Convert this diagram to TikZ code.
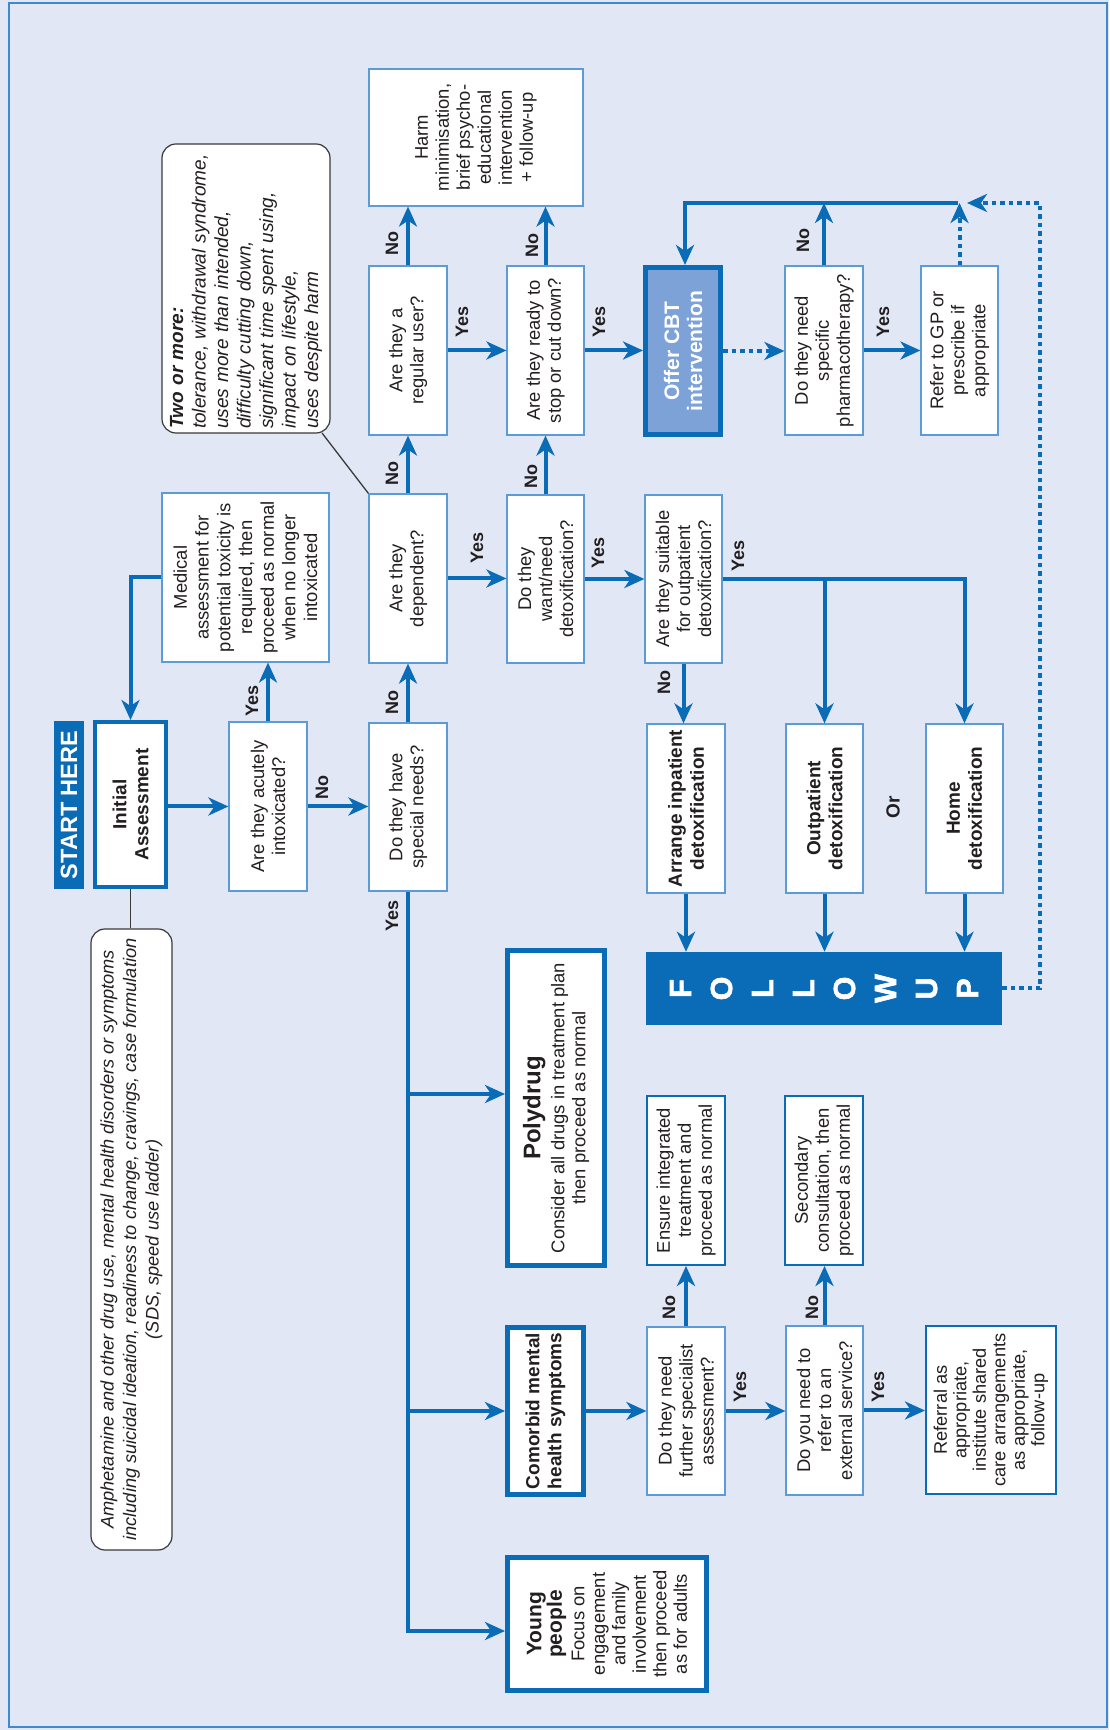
\documentclass[tikz,border=0pt]{standalone}
\usepackage{fontspec}
\setmainfont{Liberation Sans}
\newfontfamily\hvyfont{Liberation Sans}[BoldFeatures={FakeBold=2}]
\usetikzlibrary{arrows.meta}
\definecolor{bgc}{HTML}{E1E7F5}
\definecolor{mainb}{HTML}{0A6BB6}
\definecolor{thinb}{HTML}{5B9BD8}
\definecolor{cbtf}{HTML}{7CA2D8}
\definecolor{txt}{HTML}{231F20}
\definecolor{bordc}{HTML}{3D8AD0}
\definecolor{rbord}{HTML}{3A3A3A}
\newcommand\myrf{\fontsize{18.4}{21}\selectfont}
\newcommand\myrfm{\fontsize{18.4}{21.7}\selectfont}
\newcommand\mylf{\bfseries\fontsize{18}{18}\selectfont}
\newcommand\mybf{\bfseries\fontsize{19}{22}\selectfont}
\newcommand\ybf{\bfseries\fontsize{21}{22}\selectfont}
\begin{document}
\begin{tikzpicture}[x=1pt,y=1pt,
  nb/.style={align=center, inner sep=2pt, text=txt, font=\myrf},
  qbox/.style={nb, draw=thinb, line width=1.2pt, fill=white},
  obox/.style={nb, draw=mainb, line width=2pt, fill=white},
  tbox/.style={nb, draw=mainb, line width=5pt, fill=white},
  rbox/.style={nb, draw=rbord, line width=1.2pt, fill=white, rounded corners=14pt},
  sz/.style 2 args={minimum width=#1pt, minimum height=#2pt},
  arr/.style={draw=mainb, line width=4pt, -{Stealth[length=20pt,width=18pt,inset=6pt]}},
  dotarr/.style={arr, dash pattern=on 4.5pt off 4pt},
  blk/.style={draw=rbord, line width=1.3pt},
  lbl/.style={font=\mylf, text=txt, inner sep=0pt}]
\useasboundingbox (0,0) rectangle (1109,1730);
\fill[bgc] (0,0) rectangle (1109,1730);
\draw[bordc, line width=1.5pt] (9,3) rectangle (1107,1727);
\begin{scope}[rotate=90, transform shape]
% ---------- nodes ----------
\node[rbox, sz={289}{168}, inner sep=4pt, text width=281pt, align=left,
      font=\itshape\fontsize{19}{22.5}\selectfont] (tm) at (1441.5,-246)
  {\textbf{Two or more:}\\tolerance, withdrawal syndrome,\\uses more than intended,\\difficulty cutting down,\\significant  time spent using,\\impact on lifestyle,\\uses despite harm};
\node[qbox, sz={137}{214}] (harm) at (1592.5,-476)
  {Harm\\minimisation,\\brief psycho-\\educational\\intervention\\+ follow-up};
\node[qbox, sz={169}{78}] (reg) at (1379.5,-408) {Are they a\\regular user?};
\node[qbox, sz={169}{77}] (ready) at (1379.5,-545.5) {Are they ready to\\stop or cut down?};
\node[tbox, fill=cbtf, sz={167}{75}, text=white, font=\bfseries\fontsize{21}{23}\selectfont] (cbt) at (1379,-683) {Offer CBT\\intervention};
\node[qbox, sz={169}{78}] (pharm) at (1379.5,-824) {Do they need\\specific\\pharmacotherapy?};
\node[qbox, sz={169}{77}] (refer) at (1379.5,-959.5) {Refer to GP or\\prescribe if\\appropriate};
\node[qbox, sz={169}{78}] (dep) at (1151.5,-408) {Are they\\dependent?};
\node[qbox, sz={168}{77}] (want) at (1151,-545.5) {Do they\\want/need\\detoxification?};
\node[qbox, sz={168}{77}] (suit) at (1151,-683.5) {Are they suitable\\for outpatient\\detoxification?};
\node[qbox, sz={169}{167}, font=\myrfm] (med) at (1152.5,-245.5)
  {Medical\\assessment for\\potential toxicity is\\required, then\\proceed as normal\\when no longer\\intoxicated};
\node[fill=mainb, text=white, font=\bfseries\fontsize{23.5}{24}\selectfont, sz={168}{30}, inner sep=0pt] (start) at (925,-69) {START HERE};
\node[tbox, line width=4pt, sz={165}{71}, font=\mybf] (init) at (925.5,-130.5) {Initial\\Assessment};
\node[qbox, sz={169}{78}] (acute) at (923.5,-268) {Are they acutely\\intoxicated?};
\node[qbox, sz={168}{78}] (special) at (923,-408) {Do they have\\special needs?};
\node[qbox, sz={169}{78}, font=\mybf] (inpat) at (921.5,-686) {Arrange inpatient\\detoxification};
\node[qbox, sz={169}{77}, font=\mybf] (outpat) at (921.5,-824.5) {Outpatient\\detoxification};
\node[qbox, sz={169}{77}, font=\mybf] (home) at (921.5,-964.5) {Home\\detoxification};
\node[lbl, font=\mybf] (or) at (923,-893) {Or};
\node[rbox, sz={621}{81}, font=\itshape\fontsize{18.2}{22.5}\selectfont] (amph) at (490.5,-131.5)
  {Amphetamine and other drug use, mental health disorders or symptoms\\including suicidal ideation, readiness to change, cravings, case formulation\\(SDS, speed use ladder)};
\node[fill=mainb, sz={73}{356}, inner sep=0pt, text=white, align=center,
      font=\hvyfont\bfseries\fontsize{30.5}{41}\selectfont] (follow) at (741.5,-824) {F\\O\\L\\L\\O\\W\\U\\P};
\node[tbox, sz={315}{97}] (poly) at (622,-556)
  {{\fontsize{24}{26}\selectfont\bfseries Polydrug}\\[3pt]Consider all drugs in treatment plan\\then proceed as normal};
\node[obox, sz={169}{78}] (ensure) at (549.5,-686) {Ensure integrated\\treatment and\\proceed as normal};
\node[obox, sz={169}{78}] (second) at (549.5,-824) {Secondary\\consultation, then\\proceed as normal};
\node[tbox, sz={167}{76}, font=\mybf] (como) at (319,-545.5) {Comorbid mental\\health symptoms};
\node[qbox, sz={168}{78}] (further) at (319,-686) {Do they need\\further specialist\\assessment?};
\node[qbox, sz={169}{77}] (external) at (319.5,-824.5) {Do you need to\\refer to an\\external service?};
\node[obox, sz={168}{130}, font=\fontsize{18.2}{19.5}\selectfont] (referral) at (320,-991)
  {Referral as\\appropriate,\\institute shared\\care arrangements\\as appropriate,\\follow-up};
\node[tbox, sz={133}{199}, font=\fontsize{18.4}{20.5}\selectfont] (young) at (106,-607)
  {{\ybf Young}\\{\ybf people}\\[2pt]Focus on\\engagement\\and family\\involvement\\then proceed\\as for adults};
% ---------- labels ----------
\node[lbl] (l1) at (1029,-252) {Yes};
\node[lbl] (l2) at (942,-322) {No};
\node[lbl] (l3) at (1027,-392) {No};
\node[lbl] (l4) at (814,-392) {Yes};
\node[lbl] (l5) at (1256,-392) {No};
\node[lbl] (l6) at (1182,-477) {Yes};
\node[lbl] (l7) at (1253,-531) {No};
\node[lbl] (l8) at (1177,-598) {Yes};
\node[lbl] (l9) at (1486,-392) {No};
\node[lbl] (l10) at (1408,-462) {Yes};
\node[lbl] (l11) at (1484,-532) {No};
\node[lbl] (l12) at (1408,-599) {Yes};
\node[lbl] (l13) at (1489,-803) {No};
\node[lbl] (l14) at (1408,-883) {Yes};
\node[lbl] (l15) at (1047,-664) {No};
\node[lbl] (l16) at (1174,-738) {Yes};
\node[lbl] (l17) at (422,-669) {No};
\node[lbl] (l18) at (343,-740) {Yes};
\node[lbl] (l19) at (422,-812) {No};
\node[lbl] (l20) at (343,-878) {Yes};
% ---------- helper coordinates ----------
\coordinate (jl) at (1527,-685);
\coordinate (jr) at (1527,-958);
\coordinate (jt) at (1527,-967);
\coordinate (dc) at (1527,-1040);
\coordinate (pj) at (636,-505);
\coordinate (yj) at (99,-505);
\coordinate (tmc) at (1297,-322);
% ---------- connectors ----------
\draw[arr] (med.north) |- (init.east);
\draw[blk] (init.west) -- (init.west -| amph.east);
\draw[arr] (init.south -| acute.north) -- (acute.north);
\draw[arr] (acute.east) -- (acute.east -| med.west);
\draw[arr] (acute.south) -- (acute.south |- special.north);
\draw[arr] (special.east) -- (special.east -| dep.west);
\draw[arr] (special.west) -| (yj);
\draw[arr] (pj |- special.west) -- (pj);
\draw[arr] (como.north |- special.west) -- (como.north);
\draw[arr] (dep.east) -- (dep.east -| reg.west);
\draw[arr] (dep.south) -- (dep.south |- want.north);
\draw[arr] (want.east) -- (want.east -| ready.west);
\draw[arr] (want.south) -- (want.south |- suit.north);
\draw[arr] (reg.east) -- (reg.east -| harm.west);
\draw[arr] (reg.south) -- (reg.south |- ready.north);
\draw[arr] (ready.east) -- (ready.east -| harm.west);
\draw[arr] (ready.south) -- (ready.south |- cbt.north);
\draw[dotarr] (cbt.south) -- (cbt.south |- pharm.north);
\draw[arr] (jr) -- (jl) -- (jl -| cbt.east);
\draw[arr] (pharm.east) -- (pharm.east -| jl);
\draw[arr] (pharm.south) -- (pharm.south |- refer.north);
\draw[dotarr] (refer.east) -- (refer.east -| jr);
\draw[dotarr] (follow.south) -- (follow.south |- dc) -- (dc) -- (jt);
\draw[arr] (suit.west) -- (suit.west -| inpat.east);
\draw[arr] (suit.south) |- (home.east);
\draw[arr] (suit.south |- outpat.east) -- (outpat.east);
\draw[arr] (inpat.west) -- (inpat.west -| follow.east);
\draw[arr] (outpat.west) -- (outpat.west -| follow.east);
\draw[arr] (home.west) -- (home.west -| follow.east);
\draw[arr] (como.south) -- (como.south |- further.north);
\draw[arr] (further.east) -- (further.east -| ensure.west);
\draw[arr] (further.south) -- (further.south |- external.north);
\draw[arr] (external.east) -- (external.east -| second.west);
\draw[arr] (external.south) -- (external.south |- referral.north);
\draw[blk] (tmc) -- (dep.north east);
\end{scope}
\end{tikzpicture}
\end{document}
